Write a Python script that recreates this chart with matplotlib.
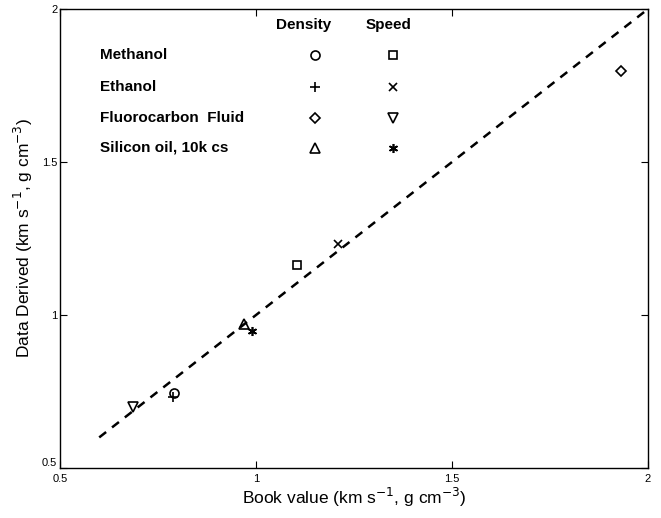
import matplotlib
matplotlib.use("Agg")
import matplotlib.pyplot as plt

plt.rcParams["font.family"] = ["Liberation Sans", "DejaVu Sans"]

# liquids and the marker used for each measurement type
liquids = ["Methanol", "Ethanol", "Fluorocarbon  Fluid", "Silicon oil, 10k cs"]
density_markers = ["o", "+", "D", "^"]
speed_markers = ["s", "x", "v", (6, 2, 0)]

# (book value, data derived)
density_book = [0.79, 0.789, 1.93, 0.969]
density_data = [0.745, 0.732, 1.798, 0.971]
speed_book = [1.104, 1.208, 0.687, 0.991]
speed_data = [1.163, 1.232, 0.698, 0.949]

line_x = [0.6, 2.0]
line_y = [0.6, 2.0]

fig = plt.figure(figsize=(6.61, 5.18), dpi=100)
ax = fig.add_axes([0.0908, 0.0965, 0.8895, 0.8861])

ax.plot(line_x, line_y, "k--", lw=1.8, dashes=(3.5, 3))

msize = {"o": 6.5, "+": 7.5, "D": 5.5, "^": 7, "s": 6, "x": 5.5, "v": 7}
for m, x, y in zip(density_markers, density_book, density_data):
    ax.plot(x, y, marker=m, ms=msize.get(m, 6.5), mfc="none", mec="k", mew=1.2, ls="none")
for m, x, y in zip(speed_markers, speed_book, speed_data):
    ax.plot(x, y, marker=m, ms=msize.get(m, 6.5), mfc="none", mec="k", mew=1.2, ls="none")

# table-style key in the upper left
ax.text(0.415, 0.965, "Density", transform=ax.transAxes, ha="center", va="center",
        fontsize=11, fontweight="bold")
ax.text(0.558, 0.965, "Speed", transform=ax.transAxes, ha="center", va="center",
        fontsize=11, fontweight="bold")
row_y = [0.899, 0.831, 0.763, 0.698]
for name, dm, sm, ry in zip(liquids, density_markers, speed_markers, row_y):
    ax.text(0.068, ry, name, transform=ax.transAxes, ha="left", va="center",
            fontsize=11, fontweight="bold")
    ax.plot(0.434, ry, marker=dm, ms=msize.get(dm, 6.5), mfc="none", mec="k", mew=1.2,
            transform=ax.transAxes, ls="none")
    ax.plot(0.566, ry, marker=sm, ms=msize.get(sm, 6.5), mfc="none", mec="k", mew=1.2,
            transform=ax.transAxes, ls="none")

ax.set_xlim(0.5, 2)
ax.set_ylim(0.5, 2)
ax.set_xticks([0.5, 1, 1.5, 2])
ax.set_yticks([0.5, 1, 1.5, 2])
ax.set_xticklabels(["0.5", "1", "1.5", "2"])
ax.set_yticklabels(["0.5", "1", "1.5", "2"])
ax.tick_params(direction="in", top=True, right=True, labelsize=8, length=5, width=0.8)
ax.tick_params(axis="x", pad=4)
ax.tick_params(axis="y", pad=2)
# MATLAB puts the y "0.5" just above the corner, clear of the x "0.5"
ax.get_yticklabels()[0].set_verticalalignment("bottom")
for s in ax.spines.values():
    s.set_linewidth(1.0)

ax.set_xlabel("Book value (km s$^{-1}$, g cm$^{-3}$)", fontsize=12.5, labelpad=2)
ax.set_ylabel("Data Derived (km s$^{-1}$, g cm$^{-3}$)", fontsize=12.5, labelpad=5)

fig.savefig("out.png", dpi=100)
